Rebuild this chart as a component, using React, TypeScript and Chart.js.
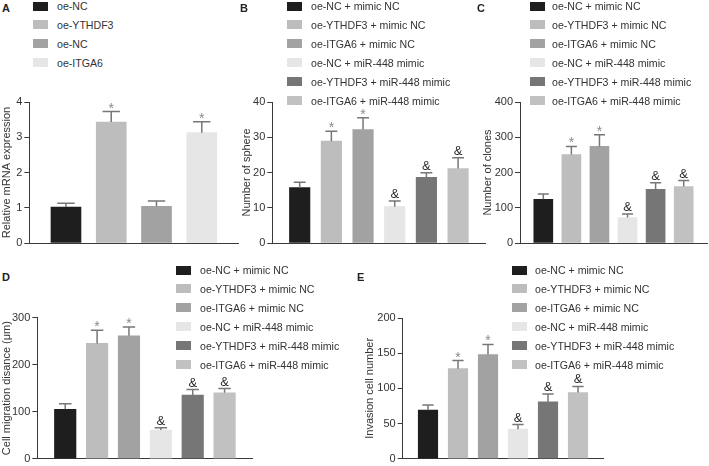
import React, { useEffect, useRef } from "react";
import { Chart, registerables } from "chart.js";

Chart.register(...registerables);

// ---------- data ----------
const groupsA = ["oe-NC", "oe-YTHDF3", "oe-NC", "oe-ITGA6"];
const valuesA = [1.02, 3.43, 1.04, 3.13];
const errorsA = [0.11, 0.3, 0.15, 0.31];
const marksA = ["", "*", "", "*"];
const ticksA = [0, 1, 2, 3, 4];

const groups6 = [
  "oe-NC + mimic NC",
  "oe-YTHDF3 + mimic NC",
  "oe-ITGA6 + mimic NC",
  "oe-NC + miR-448 mimic",
  "oe-YTHDF3 + miR-448 mimic",
  "oe-ITGA6 + miR-448 mimic",
];
const marks6 = ["", "*", "*", "&", "&", "&"];

const valuesB = [15.7, 28.9, 32.2, 10.3, 18.6, 21.1];
const errorsB = [1.5, 2.8, 3.3, 1.6, 1.3, 3.1];
const ticksB = [0, 10, 20, 30, 40];

const valuesC = [124, 251, 274, 72, 152, 160];
const errorsC = [15, 23, 33, 10, 19, 17];
const ticksC = [0, 100, 200, 300, 400];

const valuesD = [105, 245, 261, 61, 135, 140];
const errorsD = [12, 28, 19, 5, 12, 9];
const ticksD = [0, 100, 200, 300];

const valuesE = [69, 128, 148, 42, 81, 94];
const errorsE = [7.5, 11.5, 14.5, 6.5, 11, 8.7];
const ticksE = [0, 50, 100, 150, 200];

const colorsA = ["#1e1e1e", "#bdbdbd", "#a2a2a2", "#e6e6e6"];
const colors6 = ["#1e1e1e", "#bdbdbd", "#a2a2a2", "#e6e6e6", "#767676", "#c1c1c1"];

const FONT = "'Liberation Sans', Arial, sans-serif";
const TXT = "#333333";

type PanelProps = {
  values: number[];
  errors: number[];
  marks: string[];
  colors: string[];
  ticks: number[];
  title: string;
  plotL: number;
  plotT: number;
  plotR: number;
  plotB: number;
  titleX: number;
  xMin: number;
  xMax: number;
  barW: number;
};

function Panel(p: PanelProps) {
  const ref = useRef<HTMLCanvasElement | null>(null);
  const cL = Math.floor(p.titleX - 6.6);
  const cT = Math.floor(p.plotT - 6);
  const cR = Math.ceil(p.plotR + 2);
  const cB = Math.ceil(p.plotB + 3);
  const w = cR - cL;
  const h = cB - cT;

  useEffect(() => {
    const canvas = ref.current;
    if (!canvas) return;
    const yMax = p.ticks[p.ticks.length - 1];
    const errPlugin = {
      id: "errbars",
      afterDatasetsDraw(chart: any) {
        const ctx = chart.ctx;
        const meta = chart.getDatasetMeta(0);
        const ys = chart.scales.y;
        ctx.save();
        meta.data.forEach((bar: any, i: number) => {
          const x = bar.x;
          const top = bar.y;
          const capY = ys.getPixelForValue(p.values[i] + p.errors[i]);
          const half = bar.width * 0.29;
          ctx.strokeStyle = "#777777";
          ctx.lineWidth = 1.5;
          ctx.beginPath();
          ctx.moveTo(x, top);
          ctx.lineTo(x, capY);
          ctx.moveTo(x - half, capY);
          ctx.lineTo(x + half, capY);
          ctx.stroke();
          const m = p.marks[i];
          if (m === "*") {
            ctx.fillStyle = "#8a8a8a";
            ctx.font = `14px ${FONT}`;
            ctx.textAlign = "center";
            ctx.textBaseline = "alphabetic";
            ctx.fillText("*", x, capY + 1);
          } else if (m === "&") {
            ctx.fillStyle = "#2a2a2a";
            ctx.font = `13px ${FONT}`;
            ctx.textAlign = "center";
            ctx.textBaseline = "alphabetic";
            ctx.fillText("&", x, capY - 3);
          }
        });
        ctx.restore();
      },
    };
    const chart = new Chart(canvas, {
      type: "bar",
      data: {
        datasets: [
          {
            data: p.values.map((v, i) => ({ x: i, y: v })),
            backgroundColor: p.colors,
            borderWidth: 0,
            barThickness: p.barW,
          },
        ],
      },
      options: {
        responsive: false,
        animation: false,
        devicePixelRatio: 1,
        layout: {
          padding: {
            left: 0,
            top: p.plotT - cT,
            right: cR - p.plotR,
            bottom: cB - p.plotB,
          },
        },
        plugins: { legend: { display: false }, tooltip: { enabled: false } },
        scales: {
          x: {
            type: "linear",
            min: p.xMin,
            max: p.xMax,
            bounds: "data",
            offset: false,
            ticks: { display: false },
            grid: { display: false, offset: false },
            border: { display: true, color: "#3a3a3a", width: 1 },
            afterFit: (s: any) => {
              s.height = 0;
              s.paddingLeft = 0;
              s.paddingRight = 0;
            },
          },
          y: {
            min: 0,
            max: yMax,
            afterBuildTicks: (s: any) => {
              s.ticks = p.ticks.map((v) => ({ value: v }));
            },
            ticks: {
              font: { size: 11, family: FONT },
              color: TXT,
              padding: 2,
            },
            grid: {
              drawOnChartArea: false,
              drawTicks: true,
              tickLength: 5,
              color: "#3a3a3a",
            },
            border: { display: true, color: "#3a3a3a", width: 1 },
            title: {
              display: true,
              text: p.title,
              font: { size: 11, family: FONT },
              color: TXT,
              padding: 0,
            },
            afterFit: (s: any) => {
              s.width = p.plotL - cL;
              s.paddingTop = 0;
              s.paddingBottom = 0;
            },
          },
        },
      },
      plugins: [errPlugin],
    } as any);
    return () => chart.destroy();
  }, []);

  return (
    <canvas
      ref={ref}
      width={w}
      height={h}
      style={{ position: "absolute", left: cL, top: cT, width: w, height: h }}
    />
  );
}

function Legend(props: { items: string[]; colors: string[]; x: number; y: number; textX: number }) {
  return (
    <>
      {props.items.map((t, i) => {
        const cy = props.y + i * 18.9;
        return (
          <React.Fragment key={i}>
            <div
              style={{
                position: "absolute",
                left: props.x,
                top: cy - 4.5,
                width: 15,
                height: 9,
                background: props.colors[i],
              }}
            />
            <div
              style={{
                position: "absolute",
                left: props.textX,
                top: cy - 7,
                height: 14,
                lineHeight: "14px",
                fontSize: 10.6,
                fontFamily: FONT,
                color: TXT,
                whiteSpace: "nowrap",
              }}
            >
              {t}
            </div>
          </React.Fragment>
        );
      })}
    </>
  );
}

function Letter(props: { t: string; x: number; y: number }) {
  return (
    <div
      style={{
        position: "absolute",
        left: props.x,
        top: props.y - 7,
        lineHeight: "14px",
        fontSize: 11,
        fontWeight: "bold",
        fontFamily: FONT,
        color: "#222",
      }}
    >
      {props.t}
    </div>
  );
}

export default function App() {
  return (
    <div
      style={{
        position: "absolute",
        left: 0,
        top: 0,
        width: 709,
        height: 466,
        background: "#ffffff",
        overflow: "hidden",
      }}
    >
      <Panel
        values={valuesA}
        errors={errorsA}
        marks={marksA}
        colors={colorsA}
        ticks={ticksA}
        title="Relative mRNA expression"
        plotL={29.3}
        plotT={102}
        plotR={238}
        plotB={243}
        titleX={6.7}
        xMin={-0.81}
        xMax={3.8}
        barW={30}
      />
      <Panel
        values={valuesB}
        errors={errorsB}
        marks={marks6}
        colors={colors6}
        ticks={ticksB}
        title="Number of sphere"
        plotL={272.3}
        plotT={102}
        plotR={485}
        plotB={243}
        titleX={247.3}
        xMin={-0.865}
        xMax={5.85}
        barW={20.5}
      />
      <Panel
        values={valuesC}
        errors={errorsC}
        marks={marks6}
        colors={colors6}
        ticks={ticksC}
        title="Number of clones"
        plotL={520}
        plotT={102}
        plotR={707}
        plotB={243}
        titleX={488.3}
        xMin={-0.83}
        xMax={5.83}
        barW={19}
      />
      <Panel
        values={valuesD}
        errors={errorsD}
        marks={marks6}
        colors={colors6}
        ticks={ticksD}
        title="Cell migration disance (μm)"
        plotL={37.3}
        plotT={317.5}
        plotR={252}
        plotB={458.7}
        titleX={6.7}
        xMin={-0.876}
        xMax={5.86}
        barW={21.5}
      />
      <Panel
        values={valuesE}
        errors={errorsE}
        marks={marks6}
        colors={colors6}
        ticks={ticksE}
        title="Invasion cell number"
        plotL={402.7}
        plotT={318}
        plotR={603.3}
        plotB={458.7}
        titleX={370}
        xMin={-0.843}
        xMax={5.843}
        barW={19.5}
      />
      <Legend items={groupsA} colors={colorsA} x={33} y={6} textX={57} />
      <Legend items={groups6} colors={colors6} x={287} y={6} textX={311} />
      <Legend items={groups6} colors={colors6} x={530} y={6} textX={552} />
      <Legend items={groups6} colors={colors6} x={176} y={270} textX={200} />
      <Legend items={groups6} colors={colors6} x={512} y={270} textX={535} />
      <Letter t="A" x={2} y={8} />
      <Letter t="B" x={240} y={8} />
      <Letter t="C" x={477} y={8} />
      <Letter t="D" x={2} y={277} />
      <Letter t="E" x={357} y={277} />
    </div>
  );
}
